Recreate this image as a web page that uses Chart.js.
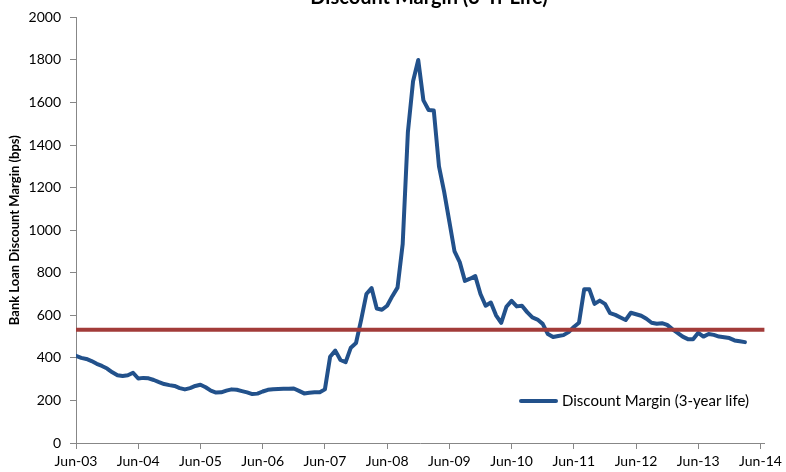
<!DOCTYPE html>
<html>
<head>
<meta charset="utf-8">
<script src="https://cdn.jsdelivr.net/npm/chart.js@4/dist/chart.umd.min.js"></script>
<style>
  html, body { margin: 0; padding: 0; background: #ffffff; }
  #wrap { width: 786px; height: 472px; }
</style>
</head>
<body>
<div id="wrap"><canvas id="chart" width="786" height="472"></canvas></div>
<script>
// Axis labels, one per June from 2003 to 2014
const tickLabels = ['Jun-03', 'Jun-04', 'Jun-05', 'Jun-06', 'Jun-07', 'Jun-08',
                    'Jun-09', 'Jun-10', 'Jun-11', 'Jun-12', 'Jun-13', 'Jun-14'];

// Monthly bank loan discount margin (bps), starting June 2003
const discountMargin = [
  410, 400, 395, 385, 372, 362, 350, 332, 318, 315, 318, 330,   // Jun-03 .. May-04
  303, 306, 304, 296, 286, 277, 272, 268, 258, 252, 258, 268,   // Jun-04 .. May-05
  274, 262, 246, 237, 238, 246, 252, 250, 244, 238, 230, 232,   // Jun-05 .. May-06
  242, 250, 253, 254, 255, 255, 256, 245, 233, 236, 238, 238,   // Jun-06 .. May-07
  252, 405, 434, 390, 380, 448, 470, 580, 700, 728, 632, 626,   // Jun-07 .. May-08
  645, 690, 730, 935, 1460, 1700, 1800, 1610, 1565, 1562, 1300, 1180, // Jun-08 .. May-09
  1040, 900, 850, 762, 772, 784, 700, 645, 660, 600, 565, 640,  // Jun-09 .. May-10
  668, 642, 645, 615, 590, 580, 560, 512, 498, 503, 507, 521,   // Jun-10 .. May-11
  545, 565, 722, 722, 654, 669, 654, 610, 602, 590, 578, 612,   // Jun-11 .. May-12
  605, 598, 584, 565, 560, 563, 555, 535, 518, 500, 488, 488,   // Jun-12 .. May-13
  518, 500, 512, 508, 500, 497, 493, 482, 478, 474              // Jun-13 .. Mar-14
];

// Long-run reference level (bps)
const referenceLevel = 532;

const seriesLabel = 'Discount Margin (3-year life)';
const chartTitle = 'Discount Margin (3-Yr Life)';
const yAxisTitle = 'Bank Loan Discount Margin (bps)';

const xMax = 132.8;            // months from Jun-03 to the end of the axis
const blue = '#22518B';
const red = '#A23B39';
const axisGrey = '#878787';
const fontFamily = 'Lato, "Open Sans", sans-serif';

// Title sits mostly above the canvas edge, only its lower part shows
const titlePlugin = {
  id: 'topTitle',
  afterDraw(chart) {
    const ctx = chart.ctx;
    ctx.save();
    ctx.font = 'bold 20px ' + fontFamily;
    ctx.fillStyle = '#000';
    ctx.textAlign = 'center';
    ctx.textBaseline = 'alphabetic';
    ctx.fillText(chartTitle, 429, 4);
    ctx.restore();
  }
};

// Legend inside the plot, lower right, for the blue series only
const insideLegend = {
  id: 'insideLegend',
  afterDraw(chart) {
    const ctx = chart.ctx;
    const ds = chart.data.datasets.find(d => d.label === seriesLabel);
    const y = 401;
    ctx.save();
    ctx.strokeStyle = ds.borderColor;
    ctx.lineWidth = 4;
    ctx.lineCap = 'round';
    ctx.beginPath();
    ctx.moveTo(521, y);
    ctx.lineTo(556, y);
    ctx.stroke();
    ctx.font = '15px ' + fontFamily;
    ctx.fillStyle = '#000';
    ctx.textAlign = 'left';
    ctx.textBaseline = 'middle';
    ctx.fillText(ds.label, 562, y);
    ctx.restore();
  }
};

new Chart(document.getElementById('chart'), {
  type: 'line',
  data: {
    datasets: [
      {
        label: 'Reference level',
        data: [{ x: 0, y: referenceLevel }, { x: xMax, y: referenceLevel }],
        borderColor: red,
        borderWidth: 4,
        pointRadius: 0,
        tension: 0,
        order: 0
      },
      {
        label: seriesLabel,
        data: discountMargin.map((v, i) => ({ x: i, y: v })),
        borderColor: blue,
        borderWidth: 4,
        borderCapStyle: 'round',
        borderJoinStyle: 'round',
        pointRadius: 0,
        tension: 0,
        order: 1
      }
    ]
  },
  options: {
    responsive: false,
    devicePixelRatio: 1,
    animation: false,
    layout: { padding: { top: 15, right: 21, bottom: 0, left: 0 } },
    plugins: {
      legend: { display: false },
      title: { display: false },
      tooltip: { enabled: false }
    },
    scales: {
      x: {
        type: 'linear',
        min: 0,
        max: xMax,
        afterBuildTicks(scale) {
          scale.ticks = tickLabels.map((_, i) => ({ value: i * 12 }));
        },
        afterFit(scale) { scale.height = 29; },
        border: { display: true, color: axisGrey, width: 1 },
        grid: { display: true, drawOnChartArea: false, drawTicks: true, tickLength: 6, color: axisGrey },
        ticks: {
          autoSkip: false,
          maxRotation: 0,
          padding: 4,
          color: '#000',
          font: { family: fontFamily, size: 14 },
          callback: (v) => tickLabels[Math.round(v / 12)]
        }
      },
      y: {
        min: 0,
        max: 2000,
        afterFit(scale) { scale.width = 76; },
        border: { display: true, color: axisGrey, width: 1 },
        grid: { display: true, drawOnChartArea: false, drawTicks: true, tickLength: 6, color: axisGrey },
        ticks: {
          stepSize: 200,
          padding: 9,
          color: '#000',
          font: { family: fontFamily, size: 14 },
          callback: (v) => String(v)
        },
        title: {
          display: true,
          text: yAxisTitle,
          color: '#000',
          font: { family: fontFamily, size: 13, weight: 'bold' },
          padding: { top: 7, bottom: 0 }
        }
      }
    }
  },
  plugins: [titlePlugin, insideLegend]
});
</script>
</body>
</html>
